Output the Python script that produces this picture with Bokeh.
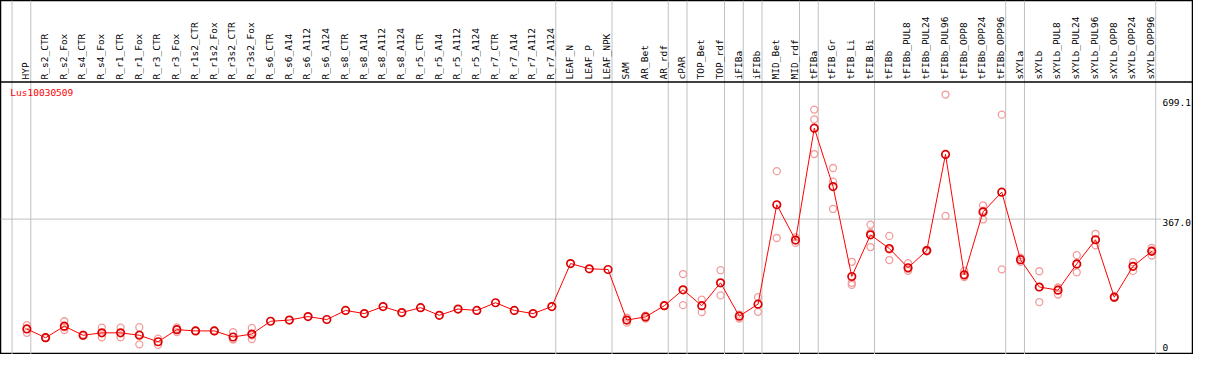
import math
from bokeh.plotting import figure
from bokeh.models import Range1d, ColumnDataSource, Span
from bokeh.core.properties import value
from bokeh.embed import file_html
from bokeh.resources import INLINE

# ---------------- data ----------------
gene = "Lus10030509"

categories = [
    "HYP", "R_s2_CTR", "R_s2_Fox", "R_s4_CTR", "R_s4_Fox", "R_r1_CTR", "R_r1_Fox",
    "R_r3_CTR", "R_r3_Fox", "R_r1s2_CTR", "R_r1s2_Fox", "R_r3s2_CTR", "R_r3s2_Fox",
    "R_s6_CTR", "R_s6_A14", "R_s6_A112", "R_s6_A124", "R_s8_CTR", "R_s8_A14",
    "R_s8_A112", "R_s8_A124", "R_r5_CTR", "R_r5_A14", "R_r5_A112", "R_r5_A124",
    "R_r7_CTR", "R_r7_A14", "R_r7_A112", "R_r7_A124", "LEAF_N", "LEAF_P", "LEAF_NPK",
    "SAM", "AR_Bet", "AR_rdf", "cPAR", "TOP_Bet", "TOP_rdf", "iFIBa", "iFIBb",
    "MID_Bet", "MID_rdf", "tFIBa", "tFIB_Gr", "tFIB_Li", "tFIB_Bi", "tFIBb",
    "tFIBb_PUL8", "tFIBb_PUL24", "tFIBb_PUL96", "tFIBb_OPP8", "tFIBb_OPP24",
    "tFIBb_OPP96", "sXYLa", "sXYLb", "sXYLb_PUL8", "sXYLb_PUL24", "sXYLb_PUL96",
    "sXYLb_OPP8", "sXYLb_OPP24", "sXYLb_OPP96",
]

means = [
    53, 28, 61, 35, 42, 42, 35, 16.5, 51, 47.5, 47.5, 30, 38.5,
    75, 78.5, 88.5, 80, 106, 97, 117, 100, 114, 92, 110, 106,
    128, 106, 97, 117, 240, 225, 223,
    78.5, 87.5, 119.5, 165, 119.5, 185, 89.5, 124,
    408, 307, 627, 460, 203, 322, 283,
    228, 277, 552, 208, 387.5, 444,
    251, 173, 164, 239, 308, 144, 232, 275,
]

rep_a = [
    64, 29, 75, 37, 57, 57, 58, 25.5, 57.5, 48, 48, 44, 56,
    None, None, None, None, None, None, None, None, None, None, None, None,
    None, None, None, None, None, None, None,
    85, 91, 120, 210, 137, 221, 94, 144,
    504, 299, 680, 513, 245, 351, 319,
    241, 279, 723, 219, 406, 665.5,
    257, 218, 171.5, 264, 325, 146, 244, 285,
]
rep_b = [
    42, 27, 50, 33, 29, 29, 9, 7.5, 44, 47, 47, 24, 24,
    None, None, None, None, None, None, None, None, None, None, None, None,
    None, None, None, None, None, None, None,
    71, 83, 119, 121, 101, 149, 83, 102,
    313, 315, 652, 474, 185, 287, 250,
    219, 275, 376, 201, 366, 223.5,
    245, 130, 151.5, 215, 292, 142, 219, 263,
]
rep_c = [
    None, None, 58, None, None, None, 37, None, 52, None, None, 23, 35,
    None, None, None, None, None, None, None, None, None, None, None, None,
    None, None, None, None, None, None, None,
    None, None, None, None, None, None, None, None,
    None, None, 553, 396, 179, 328, 280,
    224, None, None, 204, 391, None,
    None, 172, 170, 238, 308, None, 232, 278,
]

# last category of each group (a separator line follows it)
group_ends = ["HYP", "R_r7_A124", "LEAF_NPK", "AR_rdf", "cPAR", "TOP_rdf", "iFIBa",
              "iFIBb", "MID_rdf", "tFIBa", "tFIB_Bi", "tFIBb_OPP96", "sXYLa", "sXYLb_OPP96"]

tick_values = [0, 367.0, 699.1]
tick_labels = ["0", "367.0", "699.1"]

# ---------------- layout (reference pixel geometry) ----------------
REF_W, REF_H = 1209, 370
PT0, STEP = 26.7, 19.0        # px of first category point, px per category
Y_ZERO, PX_PER_UNIT = 362.7, 0.3657


def xpx(px):
    return (px - PT0) / STEP


def ypx(py):
    return (Y_ZERO - py) / PX_PER_UNIT


FONT = value("DejaVu Sans Mono")
FS = "9.5px"

p = figure(width=1193, height=354,
           x_range=Range1d(xpx(0), xpx(REF_W)),
           y_range=Range1d(ypx(REF_H), ypx(0)),
           output_backend="svg", toolbar_location=None,
           min_border=0, min_border_left=0, min_border_right=0,
           min_border_top=0, min_border_bottom=0)
p.axis.visible = False
p.grid.visible = False
p.outline_line_color = "black"
p.outline_line_width = 1.5
p.background_fill_color = "white"
p.border_fill_color = "white"

idx = list(range(len(categories)))

# vertical group separators (through header and plot)
sep_x = [-15.0 / STEP] + [categories.index(n) + 4.0 / STEP for n in group_ends]
p.segment(x0=sep_x, y0=[ypx(REF_H)] * len(sep_x), x1=sep_x, y1=[ypx(0)] * len(sep_x),
          line_color="#c0c0c0", line_width=1)

# horizontal middle reference line
p.segment(x0=[xpx(0)], y0=[tick_values[1]], x1=[xpx(1176)], y1=[tick_values[1]],
          line_color="#c0c0c0", line_width=1)

# header separator
p.add_layout(Span(location=ypx(85.3), dimension="width", line_color="black", line_width=1.5))

# category labels (rotated)
p.text(x=[i - 1.2 / STEP for i in idx], y=[ypx(82.5)] * len(idx), text=categories,
       angle=math.pi / 2, text_align="left", text_baseline="middle",
       text_font=FONT, text_font_size=FS, text_color="black")

# gene name
p.text(x=[xpx(10)], y=[ypx(96.5)], text=[gene], text_align="left", text_baseline="middle",
       text_font=FONT, text_font_size=FS, text_color="red")

# right-side value labels
for v, lab in zip(tick_values, tick_labels):
    base = "top" if v == tick_values[1] else "middle"
    p.text(x=[xpx(1177.5)], y=[v], text=[lab], text_align="left", text_baseline=base,
           text_font=FONT, text_font_size=FS, text_color="black")

# replicates
rx, ry = [], []
for reps in (rep_a, rep_b, rep_c):
    for i, r in enumerate(reps):
        if r is not None:
            rx.append(i)
            ry.append(r)
p.scatter(x=rx, y=ry, marker="circle", size=7, fill_color=None,
          line_color="#f29c9c", line_width=1.3)

# mean line + markers
p.line(x=idx, y=means, line_color="#ff0000", line_width=1)
p.scatter(x=idx, y=means, marker="circle", size=7.5, fill_color=None,
          line_color="#dd0000", line_width=1.7)

open("out.html", "w").write(file_html(p, INLINE))
